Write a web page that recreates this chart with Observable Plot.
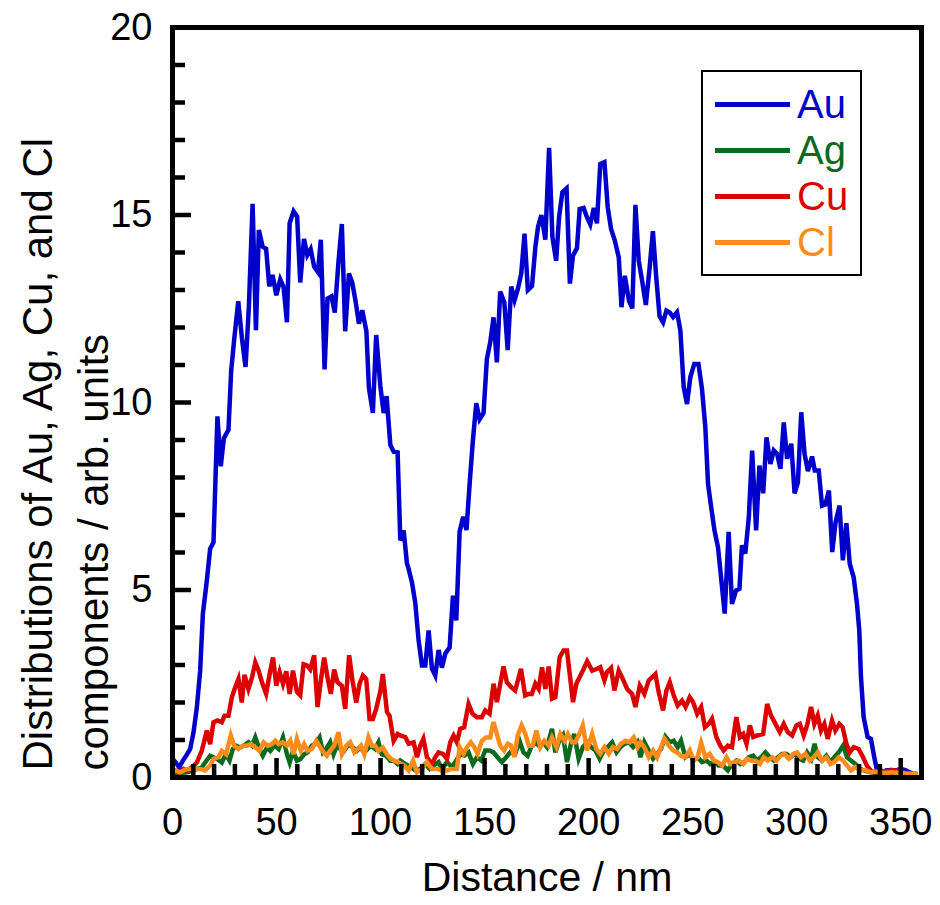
<!DOCTYPE html>
<html><head><meta charset="utf-8">
<script src="https://cdn.jsdelivr.net/npm/d3@7"></script>
<script src="https://cdn.jsdelivr.net/npm/@observablehq/plot@0.6"></script>
<style>
body{margin:0;background:#fff;font-family:"Liberation Sans",Arial,sans-serif;}
#wrap{position:relative;width:940px;height:905px;}
#legend{position:absolute;left:701px;top:70px;width:161px;height:206px;border:2.5px solid #000;box-sizing:border-box;background:#fff;}
.row{position:absolute;left:0;height:46px;width:100%;}
.sw{position:absolute;left:12px;width:75px;height:4.5px;top:21px;}
.lab{position:absolute;left:94px;top:0;font-size:40px;line-height:46px;}
</style></head>
<body><div id="wrap"></div>
<script>
const seriesNames = ["Au","Ag","Cu","Cl"];
const seriesColors = ["#0000CD","#0B6A1C","#DD0000","#FF8C1A"];
const xTicks = [0,50,100,150,200,250,300,350];
const xMinorTicks = [10,20,30,40,60,70,80,90,110,120,130,140,160,170,180,190,210,220,230,240,260,270,280,290,310,320,330,340];
const yTicks = [0,5,10,15,20];
const yMinorTicks = [1,2,3,4,6,7,8,9,11,12,13,14,16,17,18,19];
const xTitle = "Distance / nm";
const yTitle = "Distributions of Au, Ag, Cu, and Cl\ncomponents / arb. units";

const au = [[0,0.5],[1.5,0.4],[3.2,0.27],[5,0.45],[6.8,0.6],[8.5,0.76],[10.1,1.2],[11.7,1.87],[13.3,2.85],[14.6,4.37],[16.5,5.25],[18.1,6.1],[19.7,6.27],[21.6,9.63],[23.2,8.3],[24.7,9.05],[26.9,9.27],[28.2,10.84],[29.6,11.65],[31.6,12.7],[33.4,11.7],[35.1,10.95],[36.7,12.54],[38.5,15.3],[40.1,11.93],[41.5,14.6],[43.3,14.16],[45.0,14.1],[46.5,13.1],[48.1,13.4],[49.9,12.86],[51.8,13.28],[53.4,13.08],[55.0,12.14],[56.3,14.78],[58.2,15.1],[59.9,14.96],[61.4,13.2],[63.2,14.36],[64.8,13.93],[66.4,14.09],[68.1,13.62],[69.9,13.48],[71.3,14.34],[73.1,10.88],[74.5,12.77],[76.4,12.83],[78.0,12.4],[79.7,13.7],[81.4,14.76],[83.0,11.9],[84.8,13.44],[86.4,13.2],[88.0,12.7],[89.6,12.1],[91.2,12.46],[93.2,11.9],[94.4,10.39],[96.3,9.72],[97.9,11.8],[99.9,10.44],[101.5,9.72],[102.9,10.17],[104.7,8.87],[106.3,8.69],[108.2,8.67],[109.5,6.32],[111.1,6.59],[112.7,5.7],[113.3,5.6],[115.1,5.2],[116.7,4.65],[118.3,3.65],[119.9,2.99],[121.5,2.99],[123.1,3.92],[124.7,2.9],[126.3,2.72],[127.9,3.4],[129.5,2.93],[131.1,3.3],[133.2,3.47],[134.8,4.85],[136.4,4.19],[138.0,6.55],[139.7,6.95],[141.3,6.6],[142.9,7.9],[144.4,9.0],[146.0,9.98],[147.6,9.55],[149.5,9.72],[151.1,11.16],[152.7,11.6],[154.3,12.27],[155.9,11.07],[157.5,12.96],[159.5,12.67],[161.1,11.4],[162.8,13.09],[164.4,12.73],[166.0,13.03],[167.6,13.43],[169.2,14.5],[170.8,13.0],[172.8,13.11],[174.4,14.14],[175.7,14.69],[177.3,15.0],[179.2,14.34],[181.0,16.79],[182.6,14.41],[184.4,13.78],[185.8,14.94],[187.4,15.61],[189.4,15.71],[191.0,13.17],[192.5,13.92],[194.4,14.11],[195.7,15.16],[197.6,15.19],[199.2,14.94],[200.8,14.75],[202.5,15.19],[204.0,14.78],[205.6,16.36],[207.6,16.41],[209.2,15.2],[210.8,14.63],[212.6,14.32],[214.5,13.87],[215.8,12.54],[217.4,13.38],[219.4,12.71],[221.0,12.51],[222.5,15.27],[224.1,13.78],[225.8,13.22],[227.5,12.6],[229.3,13.58],[230.9,14.57],[232.5,13.34],[234.1,12.3],[235.8,12.14],[237.4,12.45],[239.0,12.4],[240.6,12.28],[242.5,12.41],[244.1,11.92],[245.7,10.41],[247.3,9.96],[248.9,10.68],[250.8,11.03],[252.8,11.03],[254.5,10.36],[256.1,9.34],[257.4,7.83],[258.9,7.21],[260.5,6.59],[262.2,6.14],[263.8,5.26],[265.4,4.37],[267.3,6.55],[268.9,4.63],[270.9,4.99],[272.5,5.03],[273.7,6.19],[275.3,5.97],[277.0,6.94],[278.6,8.72],[280.5,6.59],[282.1,8.32],[283.9,7.58],[285.5,9.07],[287.4,8.36],[289.0,8.72],[290.6,8.63],[292.2,8.23],[293.8,9.47],[295.4,8.5],[297.4,8.9],[299.0,7.58],[300.6,7.87],[302.2,9.74],[303.8,8.63],[305.4,8.17],[307.4,8.56],[308.7,8.19],[310.6,8.19],[312.2,7.25],[313.8,7.28],[315.5,7.65],[317.1,6.01],[318.7,6.81],[320.6,7.25],[322.2,5.79],[323.9,6.78],[325.5,5.7],[327.4,5.34],[329.0,4.63],[330.1,3.92],[330.9,2.68],[332.2,1.61],[334.1,1.08],[335.7,1.03],[337.3,0.54],[338.6,0.19],[340.5,0.1],[342.9,0.19],[345.3,0.2],[347.7,0.19],[350.1,0.23],[352.5,0.19],[355.7,0.1],[358,0.1]];

const ag = [[0,0.1],[1.3,0.1],[4,0.12],[6.9,0.14],[9.5,0.18],[11.7,0.23],[14.1,0.27],[15.7,0.4],[18.1,0.58],[19.7,0.54],[21.6,0.49],[23.7,0.4],[25.6,0.62],[27.4,0.45],[29.0,0.76],[30.6,0.85],[32.5,0.8],[34.4,0.85],[36.5,0.94],[38.2,0.85],[39.8,1.07],[41.8,0.76],[43.4,0.58],[45.4,0.8],[47.0,0.71],[49.0,0.85],[51.0,0.76],[53.1,1.07],[55.0,0.62],[56.3,0.4],[57.9,0.71],[59.8,0.45],[61.4,0.49],[63.3,0.62],[64.9,0.67],[67.0,0.85],[68.6,0.89],[70.7,1.07],[72.3,0.67],[73.9,0.76],[75.8,0.94],[77.4,0.62],[79.0,0.85],[80.6,0.76],[82.5,0.71],[84.6,0.89],[86.7,0.8],[88.6,0.71],[90.2,0.8],[92.2,0.67],[93.8,0.76],[95.4,0.85],[97.4,0.76],[99.0,0.94],[100.6,0.62],[102.7,0.58],[104.7,0.45],[106.3,0.45],[108.2,0.36],[109.5,0.45],[111.9,0.36],[114.3,0.28],[116.7,0.19],[119.1,0.23],[121.5,0.36],[123.6,0.23],[125.5,0.32],[127.9,0.41],[129.5,0.23],[131.9,0.41],[134.3,0.28],[136.4,0.45],[138.3,0.63],[140.2,0.58],[142.3,0.67],[144.4,0.36],[146.3,0.54],[148.4,0.45],[150.3,0.72],[152.4,0.72],[154.3,0.67],[156.2,0.54],[158.3,0.41],[160.4,0.54],[162.3,0.67],[164.7,0.63],[166.8,0.98],[168.7,0.67],[170.7,0.58],[172.4,0.81],[174.4,0.94],[176.0,0.85],[178.1,0.94],[180.0,0.81],[182.4,1.3],[184.0,0.67],[185.6,0.94],[187.7,1.12],[189.6,0.41],[191.5,0.9],[193.1,1.16],[195.2,0.5],[197.2,0.81],[199.2,0.94],[201.2,0.81],[203.3,0.72],[205.3,0.5],[207.3,0.72],[209.2,0.81],[211.3,0.94],[213.4,0.67],[215.3,0.81],[217.2,0.9],[219.4,0.94],[221.4,0.81],[223.4,0.94],[224.9,0.54],[226.8,0.94],[228.9,0.72],[231.0,0.5],[232.9,0.63],[234.8,0.76],[236.9,1.09],[239.0,0.94],[240.9,0.98],[242.8,0.81],[244.4,0.98],[246.5,0.54],[248.6,0.63],[250.5,0.45],[252.4,0.54],[254.5,0.41],[256.6,0.45],[258.5,0.36],[260.5,0.41],[262.5,0.32],[264.6,0.32],[266.9,0.19],[268.9,0.36],[271.0,0.45],[272.9,0.36],[274.9,0.41],[277.0,0.54],[279.1,0.58],[281.0,0.45],[282.9,0.54],[285.0,0.67],[287.1,0.54],[289.0,0.45],[291.0,0.54],[293.0,0.63],[295.1,0.63],[297.0,0.54],[299.0,0.63],[301.0,0.5],[303.1,0.45],[305.0,0.67],[307.0,0.5],[308.6,0.9],[310.2,0.54],[312.2,0.45],[314.3,0.58],[316.2,0.41],[318.1,0.54],[320.2,0.67],[322.3,0.85],[324.2,0.54],[326.1,0.45],[328.2,0.36],[330.3,0.23],[332.2,0.19],[335.4,0.14],[338,0.12],[342,0.1],[346,0.12],[350,0.1],[354,0.1],[358,0.08]];

const cu = [[0,0.15],[1.3,0.19],[3.2,0.12],[5.3,0.23],[7.2,0.18],[9.3,0.27],[11.7,0.4],[14.1,0.72],[16.5,1.25],[18.1,0.89],[19.7,1.47],[21.6,1.52],[23.7,1.47],[25.0,1.65],[26.9,1.65],[28.5,2.13],[30.1,2.4],[31.7,2.63],[33.3,2.0],[34.6,2.74],[36.5,2.36],[38.2,2.67],[39.8,3.07],[41.4,2.85],[43.0,2.54],[45.0,2.23],[46.7,2.76],[48.3,3.2],[49.9,2.45],[51.5,2.81],[53.1,2.5],[54.7,2.83],[56.3,2.23],[57.9,2.85],[59.8,2.28],[61.4,2.19],[63.0,3.02],[64.6,2.99],[66.2,2.88],[68.1,3.26],[69.7,1.88],[71.3,2.59],[72.9,3.2],[74.5,2.67],[76.1,2.23],[77.7,2.88],[79.3,2.54],[81.4,2.45],[83.0,1.83],[84.9,3.26],[86.5,2.59],[88.3,2.0],[89.9,2.5],[91.5,2.72],[93.1,2.63],[94.7,1.56],[96.3,1.56],[97.9,1.83],[99.9,2.3],[101.1,2.76],[103.1,1.74],[104.3,1.65],[106.3,0.98],[108.2,1.16],[109.5,1.12],[111.9,1.08],[113.5,0.9],[115.9,0.94],[117.5,0.54],[119.1,0.85],[120.6,1.03],[122.3,0.54],[124.7,0.36],[126.3,0.54],[127.9,0.67],[130.0,0.63],[131.9,0.5],[133.5,0.94],[135.1,1.12],[136.7,0.94],[138.3,1.3],[140.2,1.34],[142.3,1.96],[144.2,1.7],[146.3,1.61],[148.7,1.61],[150.3,1.79],[152.4,1.7],[154.3,2.5],[155.9,2.01],[159.1,2.96],[160.7,2.54],[162.8,2.41],[164.7,2.32],[167.5,2.9],[169.5,2.19],[171.1,2.23],[172.7,2.23],[174.4,2.5],[176.0,2.36],[177.6,2.94],[179.2,2.36],[180.8,2.96],[182.4,2.1],[184.0,2.14],[186.1,3.21],[188.0,3.39],[189.6,3.39],[191.2,2.63],[192.5,2.01],[194.1,2.5],[196.9,2.81],[199.3,3.1],[201.7,2.85],[204.1,2.9],[205.6,2.94],[207.6,2.59],[208.8,2.81],[210.8,2.92],[212.4,2.32],[214.5,2.85],[216.1,2.67],[218.5,2.36],[220.9,2.23],[222.5,1.88],[224.6,2.45],[226.8,2.23],[228.9,2.59],[232.1,2.76],[233.7,2.27],[235.8,1.79],[237.4,2.32],[239.0,2.54],[240.9,2.19],[242.8,1.92],[244.9,2.05],[246.6,1.88],[248.6,2.14],[250.2,2.01],[252.2,1.7],[254.1,1.88],[255.9,1.34],[257.7,1.43],[259.3,1.57],[261.4,1.08],[263.3,0.85],[264.9,0.72],[266.9,0.85],[268.9,0.81],[271.0,1.61],[272.7,1.08],[274.3,1.16],[275.9,0.9],[277.5,1.39],[279.1,1.08],[281.0,1.12],[283.9,1.16],[285.8,1.96],[287.7,1.65],[289.8,1.43],[291.9,1.21],[293.8,1.43],[295.7,1.21],[297.8,1.12],[299.9,1.39],[301.5,1.43],[303.4,1.12],[305.0,1.39],[306.9,1.88],[308.5,1.43],[310.1,1.65],[311.7,1.25],[313.3,1.43],[314.9,1.03],[317.0,1.52],[318.6,1.25],[320.5,1.43],[322.1,1.34],[323.9,0.9],[325.5,0.67],[327.4,0.81],[329.8,0.76],[331.9,0.54],[333.8,0.31],[335.7,0.18],[337.8,0.13],[340.2,0.18],[343.1,0.16],[345.8,0.2],[348.2,0.18],[351.4,0.13],[355.4,0.09],[357.8,0.09]];

const cl = [[0,0.2],[1.3,0.19],[3.7,0.14],[6.9,0.23],[10.1,0.23],[13.3,0.23],[15.7,0.19],[18.1,0.32],[19.7,0.49],[22.1,0.54],[23.7,0.71],[25.8,0.62],[28.0,1.12],[29.6,0.85],[31.7,0.76],[33.8,0.85],[35.7,0.85],[37.7,0.89],[39.8,0.8],[41.8,0.71],[43.8,0.94],[45.7,0.85],[47.8,0.89],[49.4,0.98],[51.0,0.89],[53.1,0.94],[55.0,0.85],[56.6,0.98],[58.2,0.62],[59.8,1.03],[61.7,0.71],[63.3,0.89],[64.9,0.71],[67.0,0.76],[69.1,0.98],[71.0,0.8],[72.6,0.67],[74.2,0.58],[75.8,0.71],[77.7,0.85],[79.8,1.21],[81.4,0.62],[83.5,0.85],[85.4,0.94],[87.4,0.67],[89.0,0.76],[90.6,0.85],[92.2,0.62],[94.2,1.07],[95.8,0.85],[97.4,0.85],[99.0,0.71],[101.1,0.8],[103.0,0.62],[105.0,0.49],[106.6,0.45],[108.7,0.4],[111.4,0.32],[113.5,0.19],[115.6,0.45],[117.5,0.14],[119.9,0.23],[122.3,0.41],[124.7,0.23],[127.1,0.23],[129.5,0.19],[131.9,0.19],[134.3,0.23],[136.7,0.23],[138.0,0.81],[139.9,0.63],[141.5,0.81],[143.4,0.94],[145.0,0.81],[146.6,0.63],[148.7,0.98],[150.7,1.07],[152.7,1.07],[154.3,1.48],[155.9,1.16],[157.5,0.85],[159.4,0.72],[161.1,0.9],[162.7,0.85],[164.3,0.54],[165.9,1.12],[167.8,1.39],[169.6,1.16],[171.2,0.85],[173.1,0.85],[174.9,1.25],[176.8,0.81],[178.7,0.98],[180.8,0.85],[182.4,1.07],[184.5,0.81],[186.4,1.16],[188.4,0.98],[190.0,1.16],[192.0,0.94],[193.6,0.94],[195.2,1.12],[197.2,1.39],[199.2,0.72],[201.7,1.16],[203.7,0.76],[205.6,0.63],[207.6,0.81],[209.7,0.63],[211.7,0.81],[213.7,0.76],[215.6,0.9],[217.7,0.98],[219.8,0.94],[221.7,1.07],[223.6,0.81],[224.9,0.94],[226.8,0.81],[228.9,0.54],[231.0,0.72],[232.9,0.54],[234.8,0.81],[236.4,1.03],[238.6,0.85],[240.6,0.72],[242.5,0.67],[244.4,0.58],[246.5,0.54],[248.6,0.72],[250.5,0.45],[252.4,0.54],[254.1,0.92],[256.1,0.54],[258.2,0.63],[260.2,0.45],[262.1,0.41],[264.2,0.32],[266.3,0.54],[268.2,0.36],[270.1,0.41],[272.2,0.45],[274.3,0.36],[276.2,0.5],[278.1,0.45],[280.2,0.45],[282.3,0.36],[284.2,0.54],[286.1,0.45],[288.2,0.54],[290.3,0.45],[292.2,0.58],[294.1,0.63],[296.2,0.5],[298.3,0.63],[300.2,0.67],[302.1,0.54],[304.2,0.63],[306.3,0.45],[308.2,0.54],[310.1,0.67],[312.2,0.45],[314.3,0.54],[316.2,0.36],[318.1,0.41],[320.2,0.54],[322.3,0.45],[324.2,0.32],[326.1,0.19],[328.2,0.28],[330.6,0.19],[333.0,0.2],[335.4,0.14],[338.6,0.16],[342,0.12],[346,0.14],[350,0.12],[354,0.1],[358,0.1]];

const seriesData = [au, ag, cu, cl];

const W = 940, H = 905, mL = 172, mR = 19, mT = 27, mB = 128;
const plotW = W - mL - mR, plotH = H - mT - mB;
const minorLen = 13, majorLen = 19;
const font = '"Liberation Sans", Arial, sans-serif';

const lineMarks = seriesData.map((s, i) => Plot.line(s, {
  x: d => d[0], y: d => d[1], stroke: seriesColors[i], strokeWidth: 4.5,
  strokeLinejoin: "miter", strokeMiterlimit: 4, strokeLinecap: "butt"
}));

const chart = Plot.plot({
  width: W, height: H,
  marginLeft: mL, marginRight: mR, marginTop: mT, marginBottom: mB,
  style: {fontFamily: font, background: "#fff", color: "#000"},
  x: {domain: [0, 360]},
  y: {domain: [0, 20]},
  marks: [
    ...lineMarks,
    Plot.tickX(xMinorTicks, {x: d => d, insetTop: plotH - minorLen, stroke: "#000", strokeWidth: 4.5}),
    Plot.tickX(xTicks, {x: d => d, insetTop: plotH - majorLen, stroke: "#000", strokeWidth: 4.5}),
    Plot.tickY(yMinorTicks, {y: d => d, insetRight: plotW - minorLen, stroke: "#000", strokeWidth: 4.5}),
    Plot.tickY(yTicks, {y: d => d, insetRight: plotW - majorLen, stroke: "#000", strokeWidth: 4.5}),
    Plot.axisX({ticks: xTicks, tickSize: 0, tickPadding: 31, fontSize: 38, label: null, tickFormat: d => String(d)}),
    Plot.axisY({ticks: yTicks, tickSize: 0, tickPadding: 20, fontSize: 38, label: null, tickFormat: d => String(d)}),
    Plot.text([xTitle], {text: d => d, frameAnchor: "bottom", dy: 100, fontSize: 41, lineAnchor: "middle", fill: "#000"}),
    Plot.text([yTitle], {text: d => d, frameAnchor: "bottom-left", rotate: -90, textAnchor: "start", lineAnchor: "middle", lineHeight: 1.33, dx: -110, dy: -7, fontSize: 42, fill: "#000"}),
    Plot.frame({stroke: "#000", strokeWidth: 5})
  ]
});

const wrap = document.getElementById("wrap");
wrap.appendChild(chart);

const legend = document.createElement("div");
legend.id = "legend";
seriesNames.forEach((name, i) => {
  const row = document.createElement("div");
  row.className = "row";
  row.style.top = (9 + i * 46) + "px";
  const sw = document.createElement("div");
  sw.className = "sw";
  sw.style.background = seriesColors[i];
  const lab = document.createElement("div");
  lab.className = "lab";
  lab.style.color = seriesColors[i];
  lab.textContent = name;
  row.appendChild(sw); row.appendChild(lab);
  legend.appendChild(row);
});
wrap.appendChild(legend);
</script>
</body></html>
